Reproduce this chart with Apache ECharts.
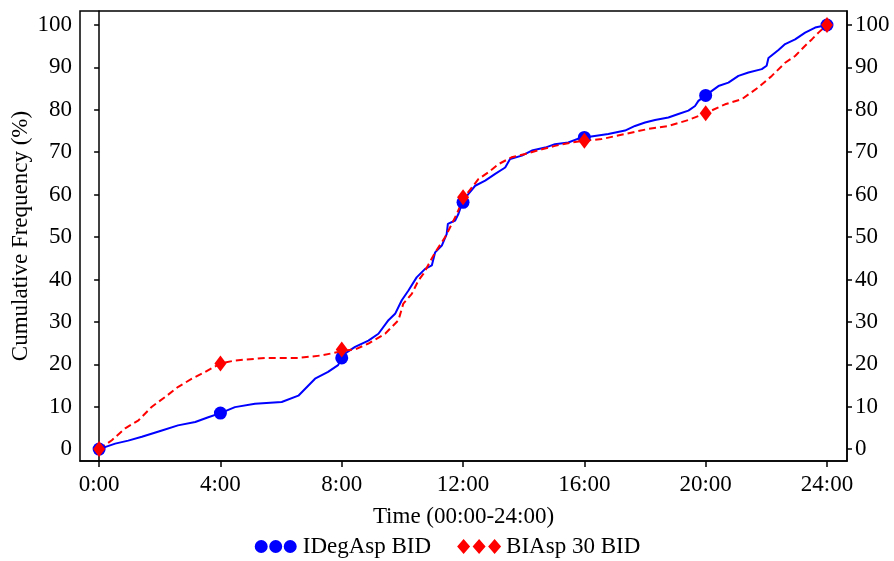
<!DOCTYPE html>
<html>
<head>
<meta charset="utf-8">
<script src="https://cdn.jsdelivr.net/npm/echarts@6/dist/echarts.min.js"></script>
<style>html,body{margin:0;padding:0;background:#fff;}#c{width:894px;height:561px;}</style>
</head>
<body>
<div id="c"></div>
<script>
const seriesNames = ['IDegAsp BID', 'BIAsp 30 BID'];
const xTicks = [0, 4, 8, 12, 16, 20, 24];
const yTicks = [0, 10, 20, 30, 40, 50, 60, 70, 80, 90, 100];
const xTitle = 'Time (00:00-24:00)';
const yTitle = 'Cumulative Frequency (%)';

// [hour, cumulative %]
const idegAspCurve = [[0,0],[0.53,1.3],[0.96,2.0],[1.41,2.9],[2.07,4.4],[2.6,5.6],[3.17,6.4],[3.6,7.5],[4,8.5],[4.48,9.9],[5.14,10.7],[6.02,11.1],[6.57,12.6],[7.12,16.6],[7.55,18.2],[7.88,19.8],[8,21.5],[8.1,22.5],[8.44,24.1],[8.88,25.6],[9.21,27.2],[9.54,30.4],[9.76,31.9],[9.98,35.1],[10.2,37.4],[10.47,40.5],[10.75,42.5],[10.97,43.3],[11.08,46.4],[11.3,48],[11.46,50.7],[11.5,53.1],[11.74,53.9],[11.85,55.5],[11.96,57.8],[12,58.3],[12.18,60.2],[12.4,62.1],[12.73,63.3],[13.06,64.9],[13.39,66.4],[13.55,68.4],[13.94,69.2],[14.27,70.4],[14.71,71.1],[15.03,71.9],[15.47,72.3],[15.91,73.5],[16,73.5],[16.79,74.3],[17.34,75.1],[17.67,76.2],[18.0,77],[18.33,77.6],[18.77,78.2],[19.1,79],[19.43,79.8],[19.65,80.9],[19.76,82.1],[20,83.4],[20.42,85.6],[20.75,86.4],[21.08,88],[21.41,88.8],[21.85,89.6],[22.01,90.4],[22.07,92.2],[22.4,94.1],[22.62,95.5],[22.95,96.6],[23.28,98.2],[23.61,99.4],[24,100]];
const biAspCurve = [[0,0],[0.42,2.1],[0.86,4.9],[1.3,6.8],[1.74,10],[2.18,12.3],[2.61,14.7],[3.06,16.6],[3.5,18.2],[4,20.2],[4.48,20.9],[5.47,21.5],[6.57,21.5],[7.34,22.1],[7.89,22.9],[8,23.2],[8.44,23.5],[8.88,24.9],[9.43,27.2],[9.87,30.4],[10.03,34.3],[10.31,36.6],[10.53,39.8],[10.69,41.3],[11.08,46.4],[11.41,50],[11.63,53.1],[11.79,55.4],[12,59],[12.51,63.7],[12.84,65.3],[13.17,67.2],[13.6,68.8],[14.05,69.6],[14.6,70.7],[15.03,71.5],[15.58,72.3],[16,72.7],[16.57,73.1],[17.34,74.3],[18.11,75.5],[18.77,76.2],[19.43,77.6],[20,79.2],[20.64,81.3],[21.19,82.5],[21.74,85.3],[22.18,88],[22.62,91.1],[22.95,92.7],[23.28,95.1],[23.5,96.6],[23.72,98.2],[24,100]];
const idegAspMarkers = [[0,0],[4,8.5],[8,21.5],[12,58.2],[16,73.5],[20,83.4],[24,100]];
const biAspMarkers = [[0,0],[4,20.2],[8,23.5],[12,59.4],[16,72.7],[20,79.2],[24,100]];

const FONT = '"Liberation Serif", "Times New Roman", serif';
const FS = 23;
const BLUE = '#0000ff', RED = '#ff0000';
// both icons share a 44x15 box
const circlesIcon = 'path://M0,0L0,0M44,15L44,15M1,7.5a6.5,6.5 0 1,0 13,0a6.5,6.5 0 1,0 -13,0zM15.5,7.5a6.5,6.5 0 1,0 13,0a6.5,6.5 0 1,0 -13,0zM30,7.5a6.5,6.5 0 1,0 13,0a6.5,6.5 0 1,0 -13,0z';
const diamondsIcon = 'path://M0,0L0,0M44,15L44,15M6.5,0L13,7.5L6.5,15L0,7.5ZM22,0L28.5,7.5L22,15L15.5,7.5ZM37.5,0L44,7.5L37.5,15L31,7.5Z';

const chart = echarts.init(document.getElementById('c'), null, {renderer: 'canvas'});
const yAxisCommon = {
  type: 'value', min: -2.8, max: 103.3,
  axisLine: {show: true, lineStyle: {color: '#000', width: 1.5}},
  axisTick: {show: true, length: 5, customValues: yTicks, lineStyle: {color: '#000', width: 1.5}},
  axisLabel: {customValues: yTicks, color: '#000', fontFamily: FONT, fontSize: FS, margin: 8},
  splitLine: {show: false}
};
chart.setOption({
  animation: false,
  backgroundColor: '#fff',
  grid: {left: 80, right: 47, top: 11, bottom: 100, show: true, borderColor: '#000', borderWidth: 1.5,
    containLabel: false, outerBoundsMode: 'none'},
  xAxis: {
    type: 'value', min: -0.63, max: 24.66,
    name: xTitle, nameLocation: 'middle', nameGap: 44, nameMoveOverlap: false,
    nameTextStyle: {color: '#000', fontFamily: FONT, fontSize: FS},
    axisLine: {show: true, onZero: false, lineStyle: {color: '#000', width: 1.5}},
    axisTick: {show: true, length: 6, customValues: xTicks, lineStyle: {color: '#000', width: 1.5}},
    axisLabel: {customValues: xTicks, color: '#000', fontFamily: FONT, fontSize: FS, margin: 12, formatter: v => v + ':00'},
    splitLine: {show: false}
  },
  yAxis: [
    Object.assign({}, yAxisCommon, {position: 'left', name: yTitle, nameLocation: 'middle', nameGap: 48,
      nameMoveOverlap: false,
      nameTextStyle: {color: '#000', fontFamily: FONT, fontSize: FS}}),
    Object.assign({}, yAxisCommon, {position: 'right'})
  ],
  legend: {
    bottom: -2, left: 'center', itemWidth: 44, itemHeight: 15, itemGap: 26,
    textStyle: {color: '#000', fontFamily: FONT, fontSize: FS},
    data: [{name: seriesNames[0], icon: circlesIcon}, {name: seriesNames[1], icon: diamondsIcon}]
  },
  series: [
    {name: seriesNames[0], type: 'line', data: idegAspCurve, showSymbol: false, color: BLUE,
      lineStyle: {color: BLUE, width: 2}, z: 2},
    {name: seriesNames[1], type: 'line', data: biAspCurve, showSymbol: false, color: RED,
      lineStyle: {color: RED, width: 2, type: [7, 4]}, z: 3},
    {name: seriesNames[0], type: 'scatter', data: idegAspMarkers, symbol: 'circle', symbolSize: 13,
      itemStyle: {color: BLUE, opacity: 1}, z: 4},
    {name: seriesNames[1], type: 'scatter', data: biAspMarkers, symbol: 'diamond', symbolSize: [12, 16],
      itemStyle: {color: RED, opacity: 1}, z: 5}
  ]
});
</script>
</body>
</html>
